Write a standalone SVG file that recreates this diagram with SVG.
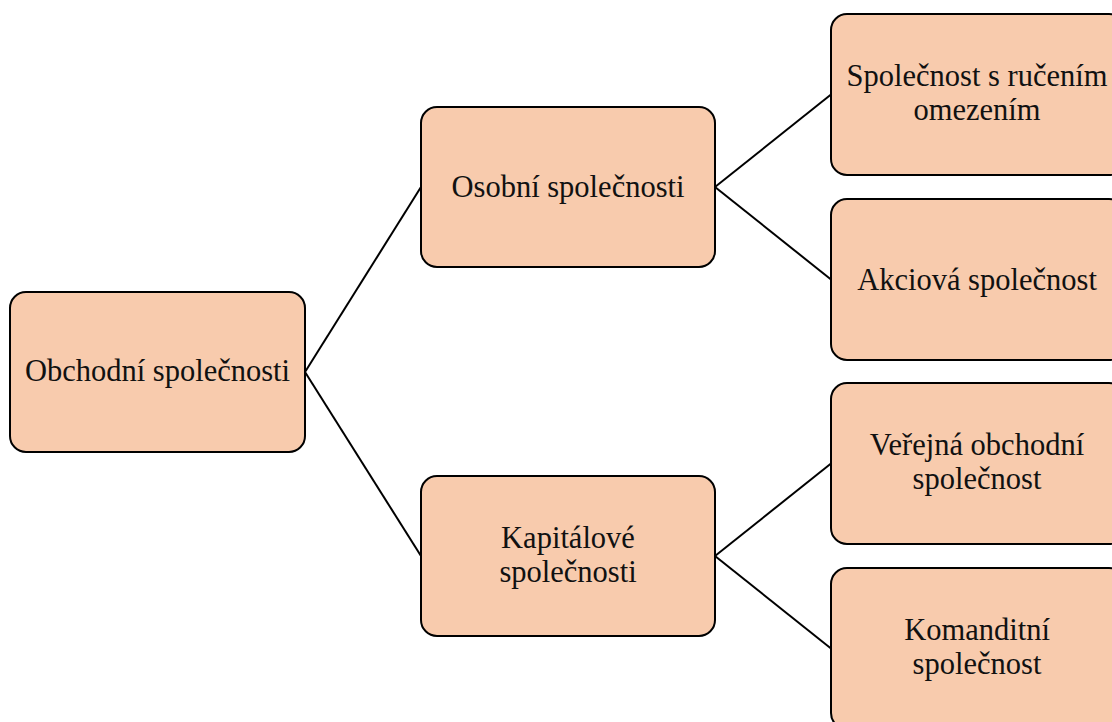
<svg xmlns="http://www.w3.org/2000/svg" width="1112" height="722" viewBox="0 0 1112 722">
  <style>
    .box { fill: #F8CBAD; stroke: #000; stroke-width: 2; }
    .lbl { font-family: "Liberation Serif", "Times New Roman", serif; font-size: 30.5px; fill: #111; text-anchor: middle; }
    .edge { stroke: #000; stroke-width: 2; fill: none; }
  </style>
  <rect width="1112" height="722" fill="#fff"/>

  <g id="connectors">
    <line class="edge" x1="305" y1="372" x2="421" y2="187"/>
    <line class="edge" x1="305" y1="372" x2="421" y2="556"/>
    <line class="edge" x1="715" y1="187" x2="831" y2="94.5"/>
    <line class="edge" x1="715" y1="187" x2="831" y2="279.5"/>
    <line class="edge" x1="715" y1="556" x2="831" y2="463.5"/>
    <line class="edge" x1="715" y1="556" x2="831" y2="648.5"/>
  </g>

  <g id="obchodni">
    <rect class="box" x="10" y="292" width="295" height="160" rx="16"/>
    <text class="lbl" x="157.5" y="381">Obchodní společnosti</text>
  </g>

  <g id="osobni">
    <rect class="box" x="421" y="107" width="294" height="160" rx="16"/>
    <text class="lbl" x="568" y="197">Osobní společnosti</text>
  </g>

  <g id="kapitalove">
    <rect class="box" x="421" y="476" width="294" height="160" rx="16"/>
    <text class="lbl" x="568" y="548">Kapitálové</text>
    <text class="lbl" x="568" y="582">společnosti</text>
  </g>

  <g id="sro">
    <rect class="box" x="831" y="14" width="294" height="161" rx="16"/>
    <text class="lbl" x="977" y="86">Společnost s ručením</text>
    <text class="lbl" x="977" y="120">omezením</text>
  </g>

  <g id="as">
    <rect class="box" x="831" y="199" width="294" height="161" rx="16"/>
    <text class="lbl" x="977" y="290">Akciová společnost</text>
  </g>

  <g id="vos">
    <rect class="box" x="831" y="383" width="294" height="161" rx="16"/>
    <text class="lbl" x="977" y="455">Veřejná obchodní</text>
    <text class="lbl" x="977" y="489">společnost</text>
  </g>

  <g id="ks">
    <rect class="box" x="831" y="568" width="294" height="161" rx="16"/>
    <text class="lbl" x="977" y="640">Komanditní</text>
    <text class="lbl" x="977" y="674">společnost</text>
  </g>
</svg>
